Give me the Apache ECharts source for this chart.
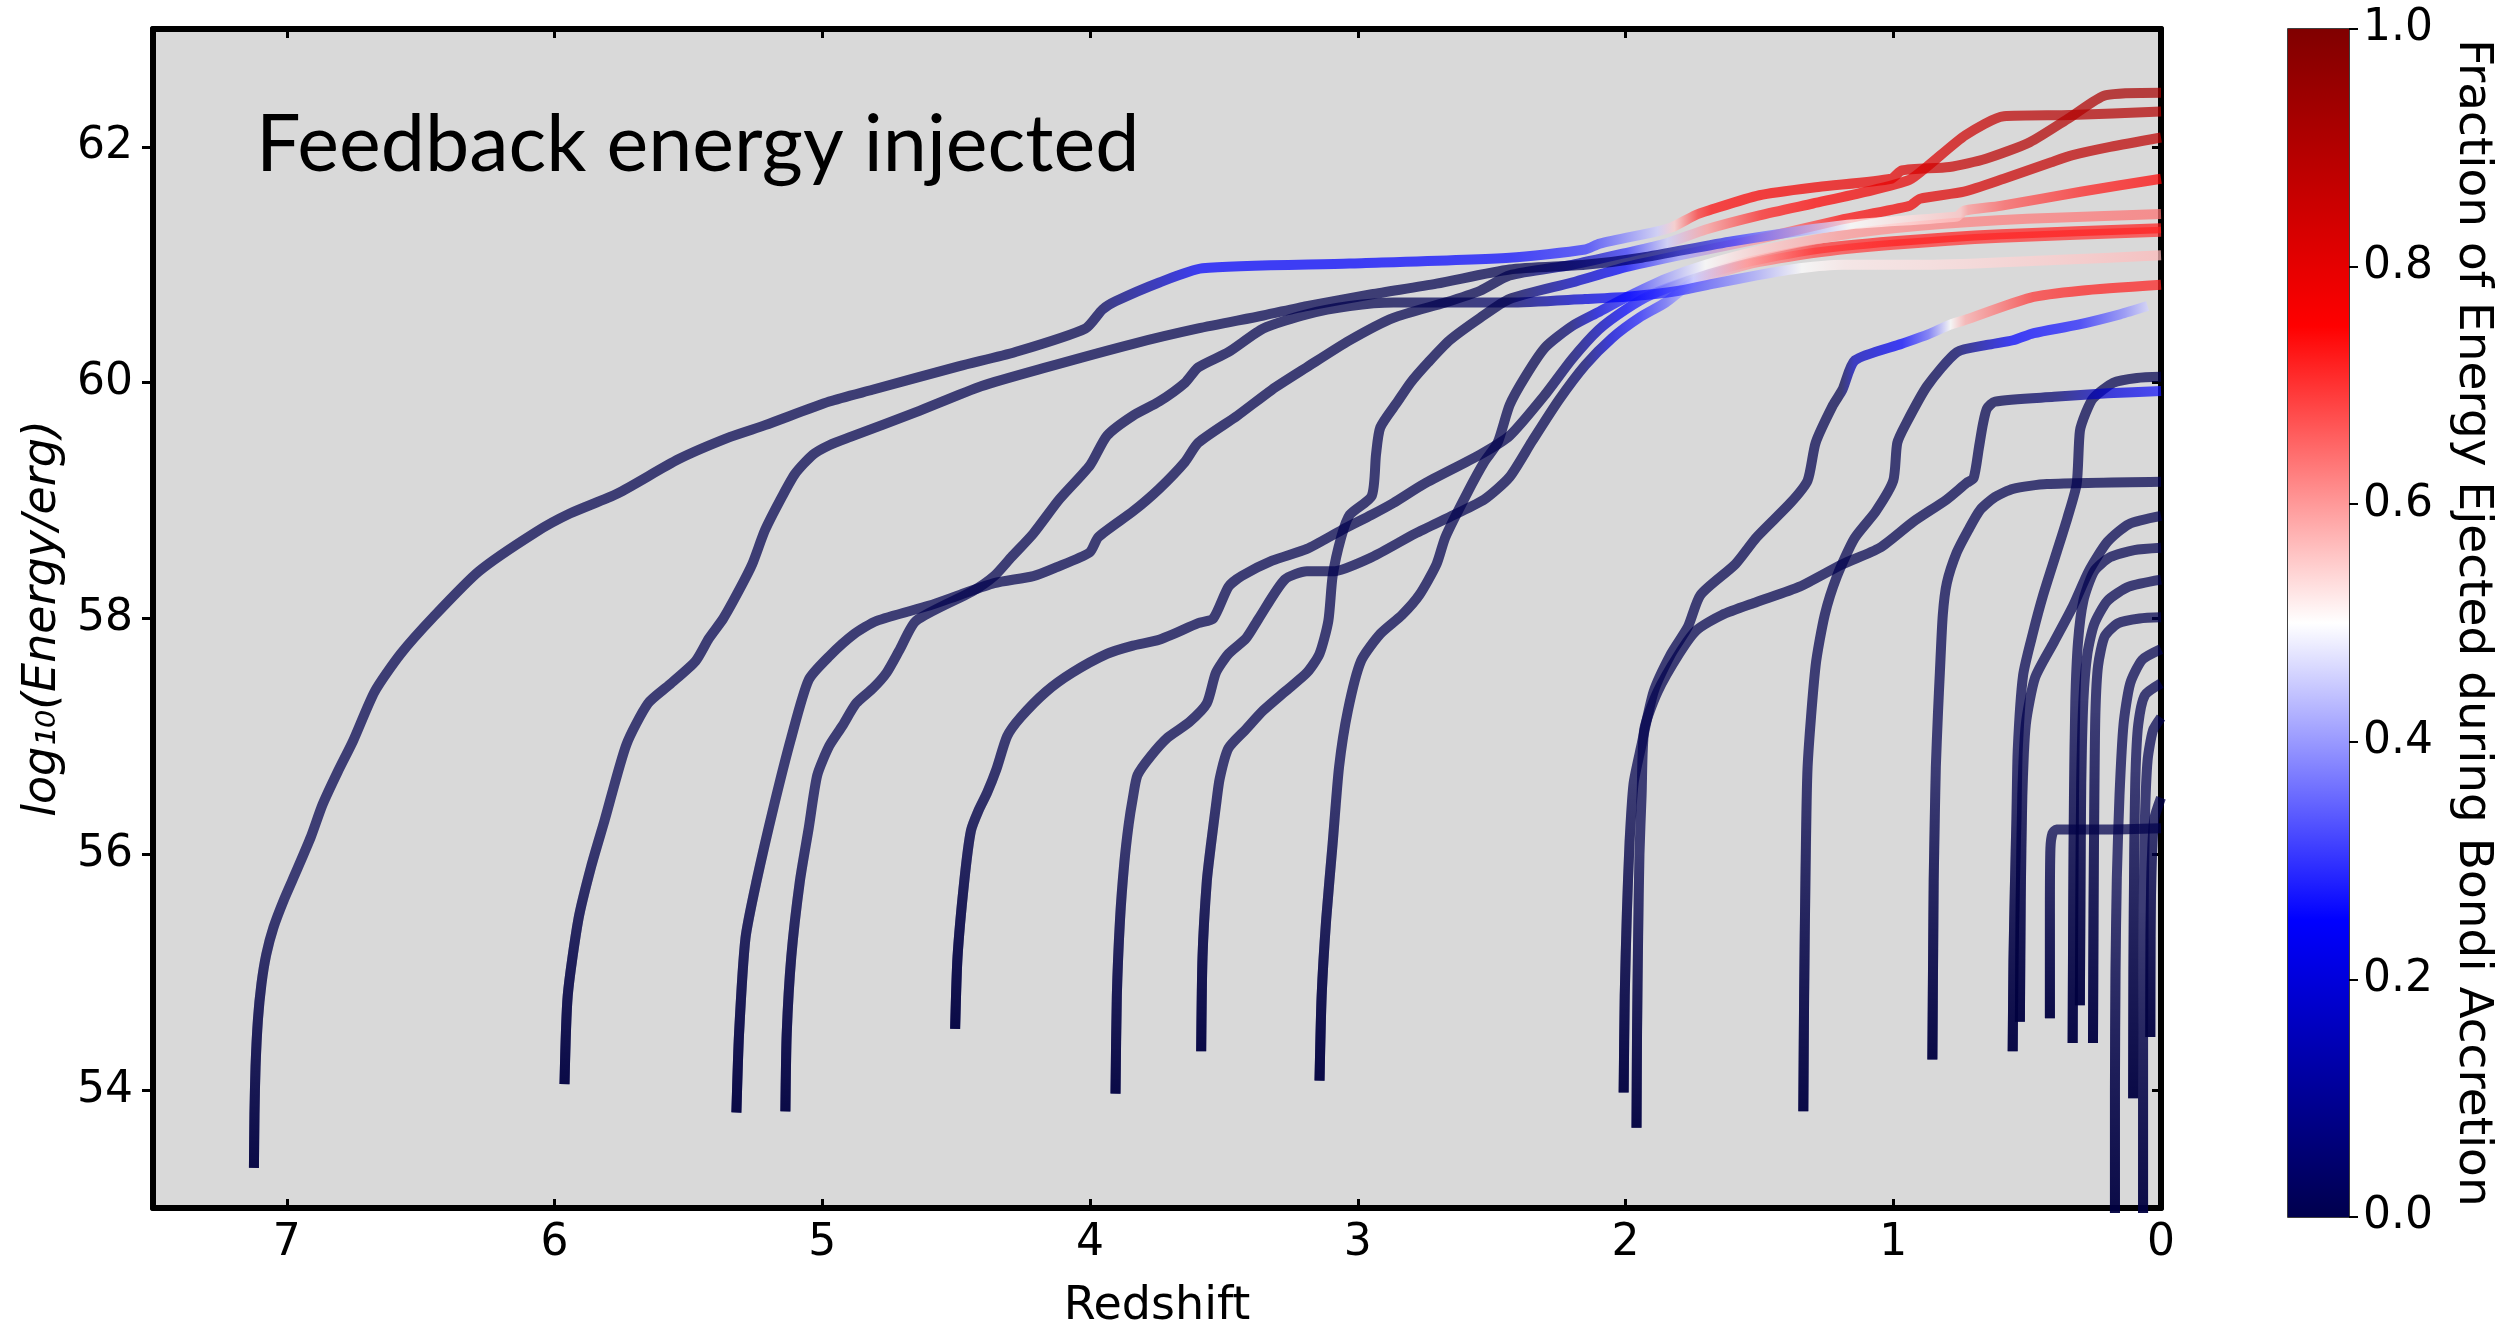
<!DOCTYPE html>
<html><head><meta charset="utf-8">
<script src="https://cdn.jsdelivr.net/npm/echarts@6/dist/echarts.min.js"></script>
<style>html,body{margin:0;padding:0;background:#fff;}#c{width:2514px;height:1335px;}</style>
</head><body><div id="c"></div>
<script>
// ---- tick values ----
const xTicks = [0, 1, 2, 3, 4, 5, 6, 7];
const yTicks = [54, 56, 58, 60, 62];
const cbTicks = [0, 0.2, 0.4, 0.6, 0.8, 1.0];

// ---- curves: [redshift, log10(E/erg), fraction ejected during Bondi] ----
const cA = [[7.123,53.34,0],[7.121,53.8,0],[7.117,54.2,0],[7.108,54.6,0],[7.095,54.9,0],[7.077,55.15,0],[7.05,55.38,0],[7.01,55.62,0],[6.964,55.86,0],[6.91,56.15,0],[6.867,56.42,0],[6.81,56.7,0],[6.753,56.96,0],[6.672,57.38,0],[6.575,57.70,0],[6.45,58.02,0],[6.283,58.40,0],[6.072,58.73,0],[5.943,58.89,0],[5.765,59.06,0],[5.538,59.35,0],[5.344,59.54,0],[5.214,59.64,0],[4.974,59.84,0],[4.813,59.94,0],[4.488,60.14,0],[4.279,60.26,0],[4.017,60.46,0],[3.954,60.62,0.02],[3.905,60.69,0.06],[3.741,60.85,0.15],[3.58,60.97,0.25],[3.031,61.01,0.25],[2.433,61.06,0.26],[2.151,61.13,0.3],[2.096,61.18,0.33],[1.89,61.28,0.45],[1.826,61.32,0.55],[1.74,61.42,0.7],[1.69,61.46,0.74],[1.50,61.59,0.76],[1.28,61.66,0.78],[1.008,61.73,0.8],[0.968,61.80,0.82],[0.79,61.83,0.86],[0.654,61.90,0.88],[0.49,62.04,0.9],[0.34,62.25,0.9],[0.205,62.44,0.92],[0,62.46,0.92]];
const c2 = [[5.963,54.05,0],[5.951,54.80,0],[5.911,55.45,0],[5.863,55.90,0],[5.813,56.29,0],[5.732,56.93,0],[5.651,57.28,0],[5.570,57.44,0],[5.473,57.64,0],[5.424,57.83,0],[5.37,58.0,0],[5.311,58.24,0],[5.262,58.46,0],[5.214,58.75,0],[5.149,59.04,0],[5.101,59.23,0],[5.035,59.39,0],[4.974,59.47,0],[4.895,59.54,0],[4.650,59.75,0],[4.407,59.97,0],[4.164,60.13,0],[3.839,60.33,0],[3.596,60.46,0],[3.353,60.57,0],[3.191,60.65,0],[2.948,60.75,0],[2.706,60.84,0],[2.433,60.96,0],[2.152,61.00,0.02],[1.94,61.06,0.05],[1.6,61.2,0.3],[1.17,61.34,0.5],[0.762,61.41,0.56],[0.735,61.46,0.6],[0.6,61.50,0.66],[0.3,61.62,0.72],[0,61.73,0.75]];
const c3 = [[5.321,53.81,0],[5.311,54.48,0],[5.287,55.29,0],[5.246,55.77,0],[5.181,56.41,0],[5.116,56.99,0],[5.051,57.48,0],[4.974,57.68,0],[4.88,57.87,0],[4.797,57.98,0],[4.60,58.11,0],[4.487,58.20,0],[4.358,58.30,0],[4.212,58.36,0],[4.131,58.43,0],[4.002,58.56,0],[3.969,58.69,0],[3.839,58.91,0],[3.742,59.10,0],[3.645,59.33,0],[3.596,59.49,0],[3.45,59.72,0],[3.321,59.94,0],[3.191,60.13,0],[3.03,60.36,0],[2.867,60.55,0],[2.673,60.68,0],[2.543,60.78,0],[2.433,60.91,0],[2.2,61.0,0.12],[2.0,61.1,0.3],[1.85,61.18,0.45],[1.7,61.3,0.6],[1.5,61.42,0.72],[1.3,61.52,0.75],[1.1,61.62,0.78],[0.94,61.72,0.8],[0.87,61.84,0.82],[0.73,62.10,0.85],[0.587,62.26,0.88],[0.34,62.27,0.9],[0,62.30,0.9]];
const c4 = [[5.138,53.82,0],[5.133,54.48,0],[5.116,55.13,0],[5.084,55.77,0],[5.051,56.22,0],[5.019,56.67,0],[4.974,56.92,0],[4.925,57.09,0],[4.874,57.28,0],[4.81,57.41,0],[4.76,57.54,0],[4.71,57.74,0],[4.65,57.98,0],[4.44,58.23,0],[4.358,58.36,0],[4.294,58.52,0],[4.212,58.72,0],[4.115,59.01,0],[4.0,59.30,0],[3.937,59.55,0],[3.84,59.72,0],[3.742,59.84,0],[3.645,60.0,0],[3.596,60.13,0],[3.483,60.26,0],[3.353,60.46,0],[3.191,60.58,0],[3.03,60.65,0],[2.867,60.68,0],[2.433,60.68,0.04],[2.151,60.71,0.2],[1.99,60.73,0.25],[1.80,60.78,0.3],[1.67,60.84,0.35],[1.51,60.91,0.42],[1.35,60.97,0.5],[1.19,61.0,0.52],[0.874,61.0,0.53],[0.4,61.04,0.55],[0,61.08,0.57]];
const c5 = [[4.504,54.52,0],[4.495,55.13,0],[4.47,55.77,0],[4.445,56.2,0],[4.415,56.38,0],[4.385,56.52,0],[4.35,56.72,0],[4.31,57.0,0],[4.26,57.16,0],[4.164,57.38,0],[4.067,57.54,0],[3.937,57.70,0],[3.84,57.77,0],[3.742,57.82,0],[3.596,57.96,0],[3.54,58.0,0],[3.483,58.27,0],[3.434,58.36,0],[3.32,58.49,0],[3.19,58.59,0],[3.06,58.75,0],[2.948,58.88,0],[2.867,58.98,0],[2.754,59.14,0],[2.543,59.39,0],[2.433,59.55,0],[2.3,59.9,0],[2.2,60.2,0.05],[2.1,60.45,0.15],[2.0,60.62,0.25],[1.9,60.75,0.3],[1.75,60.88,0.45],[1.55,61.02,0.6],[1.3,61.13,0.7],[1.0,61.2,0.72],[0.6,61.26,0.72],[0,61.31,0.72]];
const c6 = [[3.905,53.97,0],[3.90,54.80,0],[3.888,55.45,0],[3.872,55.93,0],[3.856,56.25,0],[3.84,56.48,0],[3.823,56.67,0],[3.774,56.83,0],[3.71,56.99,0],[3.63,57.12,0],[3.564,57.28,0],[3.53,57.54,0],[3.483,57.70,0],[3.418,57.83,0],[3.37,58.0,0],[3.273,58.33,0],[3.19,58.40,0],[3.094,58.40,0],[2.948,58.52,0],[2.786,58.72,0],[2.64,58.88,0],[2.527,59.01,0],[2.433,59.20,0],[2.35,59.5,0],[2.25,59.85,0],[2.15,60.15,0.05],[2.05,60.38,0.2],[1.95,60.55,0.28],[1.85,60.68,0.35],[1.75,60.85,0.45],[1.55,61.0,0.6],[1.3,61.1,0.68],[1.0,61.17,0.7],[0.6,61.23,0.7],[0,61.28,0.7]];
const c7 = [[3.585,54.33,0],[3.58,55.13,0],[3.564,55.77,0],[3.548,56.09,0],[3.53,56.41,0],[3.516,56.64,0],[3.483,56.90,0],[3.418,57.06,0],[3.353,57.22,0],[3.272,57.38,0],[3.19,57.54,0],[3.143,57.70,0],[3.11,57.98,0],[3.094,58.36,0],[3.062,58.69,0],[3.03,58.88,0],[2.948,59.04,0],[2.932,59.39,0],[2.916,59.62,0],[2.851,59.84,0],[2.803,60.0,0],[2.738,60.17,0],[2.657,60.36,0],[2.543,60.55,0],[2.433,60.71,0],[2.2,60.85,0.15],[2.0,60.98,0.25],[1.8,61.08,0.4],[1.5,61.22,0.6],[1.2,61.38,0.74],[0.94,61.50,0.78],[0.9,61.56,0.8],[0.736,61.62,0.82],[0.587,61.73,0.85],[0.41,61.87,0.87],[0.33,61.93,0.88],[0.19,62.0,0.88],[0,62.08,0.88]];
const c8 = [[3.143,54.08,0],[3.135,54.80,0],[3.118,55.45,0],[3.094,56.09,0],[3.07,56.74,0],[3.037,57.22,0],[2.988,57.64,0],[2.916,57.87,0],[2.835,58.03,0],[2.77,58.20,0],[2.706,58.46,0],[2.673,58.69,0],[2.59,59.07,0],[2.527,59.33,0],[2.478,59.49,0],[2.433,59.81,0],[2.375,60.05,0],[2.3,60.3,0],[2.2,60.48,0.05],[2.1,60.6,0.2],[2.0,60.72,0.28],[1.85,60.88,0.4],[1.7,61.0,0.5],[1.5,61.12,0.55],[1.2,61.25,0.6],[0.9,61.33,0.62],[0.5,61.39,0.63],[0,61.43,0.64]];
const c9 = [[2.007,53.98,0],[2.003,54.8,0],[1.995,55.5,0],[1.985,56.1,0],[1.97,56.6,0],[1.943,56.90,0],[1.895,57.38,0],[1.83,57.70,0],[1.767,57.93,0],[1.72,58.20,0],[1.59,58.46,0],[1.51,58.69,0],[1.384,58.98,0],[1.32,59.17,0],[1.29,59.49,0],[1.225,59.81,0],[1.19,59.94,0],[1.143,60.19,0.15],[0.968,60.33,0.25],[0.87,60.41,0.35],[0.79,60.49,0.5],[0.735,60.53,0.58],[0.49,60.72,0.7],[0.3,60.78,0.72],[0,60.83,0.72]];
const c10 = [[1.959,53.68,0],[1.957,54.5,0],[1.953,55.3,0],[1.948,56.0,0],[1.94,56.5,0],[1.93,57.06,0],[1.88,57.38,0],[1.80,57.70,0],[1.735,57.90,0],[1.64,58.03,0],[1.51,58.14,0],[1.35,58.27,0],[1.19,58.46,0],[1.05,58.60,0],[0.926,58.82,0],[0.80,59.01,0],[0.726,59.15,0],[0.70,59.19,0],[0.68,59.45,0],[0.665,59.65,0],[0.65,59.78,0],[0.62,59.84,0],[0.4,59.88,0.05],[0.2,59.91,0.2],[0,59.93,0.27]];
const c11 = [[1.336,53.82,0],[1.333,54.8,0],[1.328,55.8,0],[1.32,56.74,0],[1.29,57.6,0],[1.256,58.03,0],[1.21,58.36,0],[1.145,58.68,0],[1.065,58.91,0],[1.0,59.17,0],[0.985,59.49,0],[0.953,59.65,0],[0.874,59.97,0],[0.762,60.26,0.03],[0.65,60.32,0.15],[0.553,60.36,0.25],[0.475,60.42,0.26],[0.314,60.49,0.28],[0.153,60.58,0.38],[0.05,60.65,0.47]];
const c12 = [[0.854,54.26,0],[0.851,55.2,0],[0.849,55.77,0],[0.845,56.3,0],[0.841,56.74,0],[0.833,57.2,0],[0.826,57.54,0],[0.815,58.03,0],[0.80,58.3,0],[0.763,58.56,0],[0.72,58.75,0],[0.676,58.92,0],[0.62,59.03,0],[0.553,59.10,0],[0.426,59.14,0],[0,59.16,0]];
const c13 = [[0.554,54.33,0],[0.551,55.1,0],[0.546,55.7,0],[0.54,56.3,0],[0.535,56.89,0],[0.515,57.52,0],[0.478,57.88,0],[0.44,58.2,0],[0.39,58.56,0],[0.35,58.85,0],[0.315,59.14,0],[0.303,59.59,0],[0.28,59.75,0],[0.253,59.87,0],[0.178,60.0,0],[0.09,60.04,0],[0,60.05,0]];
const b2 = [[0.527,54.58,0],[0.524,55.6,0],[0.518,56.5,0],[0.505,57.1,0],[0.47,57.5,0],[0.40,57.8,0],[0.33,58.1,0],[0.27,58.4,0],[0.2,58.65,0],[0.12,58.8,0],[0,58.87,0]];
const b3 = [[0.415,54.61,0],[0.415,55.5,0],[0.413,56.05,0],[0.405,56.18,0],[0.39,56.21,0],[0.2,56.21,0],[0,56.22,0]];
const b4 = [[0.33,54.40,0],[0.328,55.5,0],[0.325,56.5,0],[0.32,57.3,0],[0.31,57.8,0],[0.29,58.15,0],[0.25,58.4,0],[0.19,58.52,0],[0.1,58.58,0],[0,58.60,0]];
const b5 = [[0.303,54.72,0],[0.301,55.6,0],[0.298,56.6,0],[0.29,57.3,0],[0.275,57.7,0],[0.25,57.95,0],[0.2,58.15,0],[0.12,58.27,0],[0,58.33,0]];
const b6 = [[0.254,54.40,0],[0.252,55.5,0],[0.249,56.5,0],[0.245,57.2,0],[0.235,57.6,0],[0.21,57.85,0],[0.16,57.96,0],[0.08,58.0,0],[0,58.01,0]];
const b7 = [[0.172,52.9,0],[0.172,54.0,0],[0.17,55.0,0],[0.165,55.8,0],[0.155,56.5,0],[0.14,57.1,0],[0.115,57.45,0],[0.07,57.65,0],[0,57.74,0]];
const b8 = [[0.104,53.93,0],[0.103,55.0,0],[0.1,56.0,0],[0.095,56.7,0],[0.085,57.1,0],[0.06,57.35,0],[0,57.45,0]];
const b9 = [[0.067,52.9,0],[0.067,54.5,0],[0.065,55.5,0],[0.06,56.3,0],[0.05,56.8,0],[0.03,57.05,0],[0,57.16,0]];
const b10 = [[0.04,54.45,0],[0.039,55.3,0],[0.035,55.9,0],[0.025,56.3,0],[0,56.48,0]];

const curves = [b2,b3,b4,b5,b6,b7,b8,b9,b10,c13,c12,c10,c6,c5,c8,c4,c7,c3,c2,c11,c9,cA];

// ---- seismic colormap ----
const seismicStops = [[0,[0,0,76.5]],[0.25,[0,0,255]],[0.5,[255,255,255]],[0.75,[255,0,0]],[1,[127.5,0,0]]];
function seismic(f) {
  f = Math.max(0, Math.min(1, f));
  for (let i = 1; i < seismicStops.length; i++) {
    const [p1, c1] = seismicStops[i];
    const [p0, c0] = seismicStops[i-1];
    if (f <= p1) {
      const t = (f - p0) / (p1 - p0);
      const c = c0.map((v, k) => Math.round(v + (c1[k] - v) * t));
      return 'rgb(' + c.join(',') + ')';
    }
  }
  return 'rgb(127,0,0)';
}

const SMOOTH = 0.22;
function curveSeries(pts) {
  const zs = pts.map(p => p[0]);
  const zmax = Math.max(...zs), zmin = Math.min(...zs);
  const fs = pts.map(p => p[2]);
  const uniform = fs.every(f => Math.abs(f - fs[0]) < 1e-9);
  let color;
  if (uniform || zmax === zmin) {
    color = seismic(fs[0]);
  } else {
    color = {type: 'linear', x: 0, y: 0, x2: 1, y2: 0, global: false,
      colorStops: pts.map(p => ({offset: (zmax - p[0]) / (zmax - zmin), color: seismic(p[2])}))};
  }
  return {
    type: 'line', xAxisIndex: 0, yAxisIndex: 0,
    data: pts.map(p => [p[0], p[1]]),
    showSymbol: false, symbol: 'none', silent: true, clip: true,
    smooth: SMOOTH,
    lineStyle: {width: 10, color: color, opacity: 0.72, cap: 'butt', join: 'round'},
    z: 2
  };
}
// darker, densely sampled steep start of every track
function baseSeries(pts) {
  const e0 = pts[0][1];
  const sub = [];
  for (const p of pts) { sub.push([p[0], p[1]]); if (p[1] > e0 + 2.2) break; }
  return {
    type: 'line', xAxisIndex: 0, yAxisIndex: 0, data: sub,
    showSymbol: false, symbol: 'none', silent: true, clip: true, smooth: SMOOTH,
    lineStyle: {width: 10, cap: 'butt', join: 'round', opacity: 1,
      color: {type: 'linear', x: 0, y: 1, x2: 0, y2: 0, global: false, colorStops: [
        {offset: 0, color: 'rgba(0,0,62,0.85)'},
        {offset: 0.45, color: 'rgba(0,0,62,0.5)'},
        {offset: 1, color: 'rgba(0,0,62,0)'}]}},
    z: 3
  };
}

const FONT = 'DejaVu Sans';
const chart = echarts.init(document.getElementById('c'), null, {renderer: 'canvas', width: 2514, height: 1335});
const cbGradient = {type: 'linear', x: 0, y: 1, x2: 0, y2: 0,
  colorStops: seismicStops.map(s => ({offset: s[0], color: seismic(s[0])}))};

chart.setOption({
  animation: false,
  backgroundColor: '#ffffff',
  title: {text: 'Feedback energy injected', left: 256, top: 106, padding: 0,
    textStyle: {fontFamily: 'Lato', fontSize: 79, fontWeight: 'normal', color: '#000'}},
  grid: [
    {left: 153, top: 29, width: 2008, height: 1188, show: true, backgroundColor: '#d9d9d9', borderWidth: 0},
    {left: 2288, top: 29, width: 61, height: 1188, show: true, borderColor: '#000', borderWidth: 1.5, backgroundColor: 'transparent'}
  ],
  xAxis: [
    {gridIndex: 0, type: 'value', min: 0, max: 7.5, inverse: true, position: 'bottom',
     axisLine: {show: true, onZero: false, lineStyle: {color: '#000', width: 6}},
     axisTick: {show: true, customValues: xTicks, inside: true, length: 9, lineStyle: {color: '#000', width: 3}},
     axisLabel: {show: true, customValues: xTicks, fontFamily: FONT, fontSize: 44, color: '#000', margin: 14},
     splitLine: {show: false},
     name: 'Redshift', nameLocation: 'middle', nameGap: 76,
     nameTextStyle: {fontFamily: FONT, fontSize: 46, color: '#000'}},
    {gridIndex: 0, type: 'value', min: 0, max: 7.5, inverse: true, position: 'top',
     axisLine: {show: true, onZero: false, lineStyle: {color: '#000', width: 6}},
     axisTick: {show: true, customValues: xTicks, inside: true, length: 9, lineStyle: {color: '#000', width: 3}},
     axisLabel: {show: false}, splitLine: {show: false}},
    {gridIndex: 1, type: 'category', data: ['cb'], show: false}
  ],
  yAxis: [
    {gridIndex: 0, type: 'value', min: 53, max: 63, position: 'left',
     axisLine: {show: true, onZero: false, lineStyle: {color: '#000', width: 6}},
     axisTick: {show: true, customValues: yTicks, inside: false, length: 11, lineStyle: {color: '#000', width: 3}},
     axisLabel: {show: true, customValues: yTicks, fontFamily: FONT, fontSize: 44, color: '#000', margin: 20},
     splitLine: {show: false},
     name: 'log\u2081\u2080(Energy/erg)', nameLocation: 'middle', nameGap: 86, nameRotate: 90,
     nameTextStyle: {fontFamily: FONT, fontStyle: 'italic', fontSize: 46, color: '#000'}},
    {gridIndex: 0, type: 'value', min: 53, max: 63, position: 'right',
     axisLine: {show: true, onZero: false, lineStyle: {color: '#000', width: 6}},
     axisTick: {show: true, customValues: yTicks, inside: true, length: 9, lineStyle: {color: '#000', width: 3}},
     axisLabel: {show: false}, splitLine: {show: false}},
    {gridIndex: 1, type: 'value', min: 0, max: 1, interval: 0.2, position: 'right',
     axisLine: {show: false},
     axisTick: {show: true, length: 9, lineStyle: {color: '#000', width: 2}},
     axisLabel: {show: true, fontFamily: FONT, fontSize: 44, color: '#000', margin: 14,
       formatter: v => v.toFixed(1)},
     splitLine: {show: false},
     name: 'Fraction of Energy Ejected during Bondi Accretion', nameLocation: 'middle', nameRotate: -90, nameGap: 100,
     nameTextStyle: {fontFamily: FONT, fontSize: 47, color: '#000'}}
  ],
  series: curves.map(curveSeries).concat(curves.map(baseSeries)).concat([{
    type: 'bar', xAxisIndex: 2, yAxisIndex: 2, data: [1], barWidth: '100%', silent: true,
    itemStyle: {color: cbGradient}, z: 1
  }])
});
</script></body></html>
